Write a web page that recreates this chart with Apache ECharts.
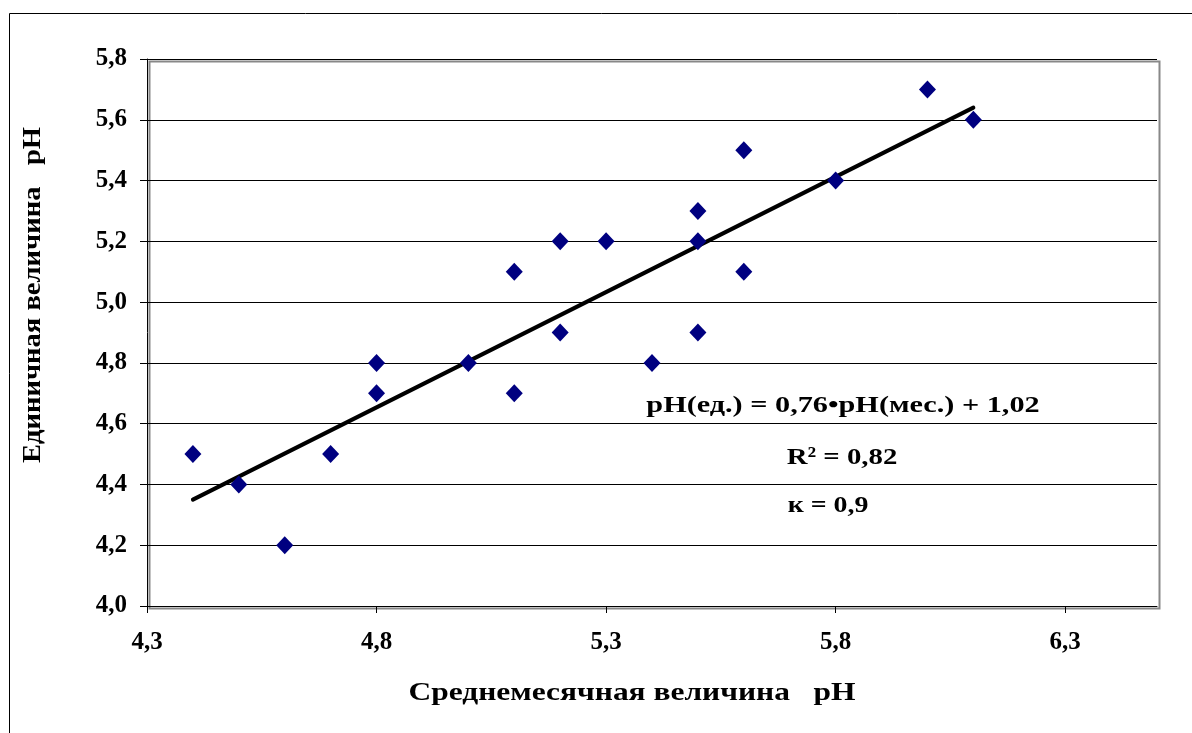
<!DOCTYPE html>
<html>
<head>
<meta charset="utf-8">
<script src="https://cdn.jsdelivr.net/npm/echarts@6/dist/echarts.min.js"></script>
<style>
  html, body { margin: 0; padding: 0; background: #fff; }
  #chart { width: 1192px; height: 733px; }
</style>
</head>
<body>
<div id="chart"></div>
<script>
// среднемесячная pH (x) и единичная pH (y)
const monthlyPh = [4.4, 4.5, 4.6, 4.7, 4.8, 4.8, 5.0, 5.1, 5.1, 5.2, 5.2, 5.3, 5.4, 5.5, 5.5, 5.5, 5.6, 5.6, 5.8, 6.0, 6.1];
const singlePh  = [4.5, 4.4, 4.2, 4.5, 4.8, 4.7, 4.8, 5.1, 4.7, 5.2, 4.9, 5.2, 4.8, 5.3, 5.2, 4.9, 5.5, 5.1, 5.4, 5.7, 5.6];
// линия тренда (концы)
const trendX = [4.4, 6.1];
const trendY = [4.35, 5.64];
const xTicks = [4.3, 4.8, 5.3, 5.8, 6.3];

const points = monthlyPh.map((x, i) => [x, singlePh[i]]);
const trend = trendX.map((x, i) => [x, trendY[i]]);
const fmt = v => v.toFixed(1).replace(".", ",");
const font = "'Liberation Serif', 'Times New Roman', serif";

function label(text, x, y, size, sx, rot) {
  return {
    type: "text",
    x: x, y: y, rotation: rot || 0, scaleX: sx, silent: true,
    style: {
      text: text,
      font: "bold " + size + "px " + font,
      fill: "#000",
      align: "center",
      verticalAlign: "middle",
    },
  };
}

let myChart = echarts.init(document.getElementById("chart"));

myChart.setOption({
  animation: false,
  grid: { left: 147, top: 59, right: 35, bottom: 127 },
  xAxis: {
    type: "value",
    min: 4.3,
    max: 6.5,
    axisLine: { onZero: false, lineStyle: { color: "#000", width: 1 } },
    axisTick: { show: true, length: 7, inside: false, customValues: xTicks, lineStyle: { color: "#000" } },
    axisLabel: {
      customValues: xTicks,
      formatter: fmt,
      margin: 24,
      color: "#000",
      fontFamily: font,
      fontWeight: "bold",
      fontSize: 25,
    },
    splitLine: { show: false },
  },
  yAxis: {
    type: "value",
    min: 4.0,
    max: 5.8,
    interval: 0.2,
    axisLine: { show: true, onZero: false, lineStyle: { color: "#000", width: 1 } },
    axisTick: { show: true, length: 7, lineStyle: { color: "#000" } },
    axisLabel: {
      formatter: fmt,
      margin: 20,
      color: "#000",
      fontFamily: font,
      fontWeight: "bold",
      fontSize: 25,
    },
    splitLine: { show: true, lineStyle: { color: "#000", width: 1 } },
  },
  graphic: [
    {
      type: "rect",
      left: 7, top: 11, silent: true, z: -1,
      shape: { width: 1300, height: 900 },
      style: { fill: null, stroke: "#000", lineWidth: 1 },
    },
    {
      type: "rect",
      left: 147, top: 59, silent: true, z: -1,
      shape: { width: 1010, height: 547 },
      style: { fill: null, stroke: "#888", lineWidth: 2 },
    },
    label("Среднемесячная величина   pH", 632, 693, 26, 1.21),
    label("Единичная величина   pH", 33, 295, 26, 1.1, Math.PI / 2),
    label("pH(ед.) = 0,76•pH(мес.) + 1,02", 843, 406, 24, 1.26),
    label("R² = 0,82", 842, 458, 24, 1.2),
    label("к = 0,9", 828, 506, 24, 1.16),
  ],
  series: [
    {
      name: "trend",
      type: "line",
      data: trend,
      symbol: "none",
      lineStyle: { color: "#000", width: 4, cap: "round" },
      z: 2,
    },
    {
      name: "pH",
      type: "scatter",
      data: points,
      symbol: "diamond",
      symbolSize: [17, 18],
      itemStyle: { color: "#000080", opacity: 1 },
      z: 3,
    },
  ],
});
</script>
</body>
</html>
